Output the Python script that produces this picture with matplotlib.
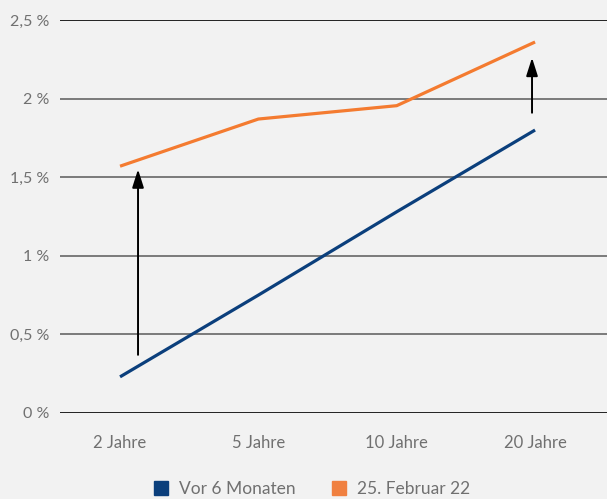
import matplotlib
matplotlib.use("Agg")
import matplotlib.pyplot as plt
from matplotlib.lines import Line2D

plt.rcParams["font.family"] = ["Lato", "DejaVu Sans"]

categories = ["2 Jahre", "5 Jahre", "10 Jahre", "20 Jahre"]
vor_6_monaten = [0.23, 0.75, 1.28, 1.80]
feb_25_22 = [1.57, 1.87, 1.955, 2.36]
y_ticks = [0, 0.5, 1, 1.5, 2, 2.5]
y_tick_labels = ["0 %", "0,5 %", "1 %", "1,5 %", "2 %", "2,5 %"]
# arrows: (category position, start value, end value)
arrows = [(0.13, 0.37, 1.55), (2.978, 1.91, 2.26)]

BLUE = "#0b3f7c"
ORANGE = "#f47b30"
BG = "#f2f2f2"
TEXT = "#707070"

fig = plt.figure(figsize=(6.07, 4.99), dpi=100, facecolor=BG)
ax = fig.add_axes([60 / 607, 86 / 499, 547 / 607, 393 / 499], facecolor=BG)

x = list(range(len(categories)))
ax.plot(x, vor_6_monaten, color=BLUE, lw=2.3, solid_capstyle="butt", zorder=3)
ax.plot(x, feb_25_22, color=ORANGE, lw=2.3, solid_capstyle="butt", zorder=3)

for xa, y0, y1 in arrows:
    ax.annotate("", xy=(xa, y1), xytext=(xa, y0),
                arrowprops=dict(arrowstyle="-|>,head_length=1.1,head_width=0.35",
                                color="black", lw=1.4, shrinkA=0, shrinkB=0),
                zorder=4)

for t in y_ticks:
    c = "#222222" if t in (0, 2.5) else "#7a7a7a"
    ax.axhline(t, color=c, lw=1.4, zorder=1)

ax.set_xlim(-0.434, 3.52)
ax.set_ylim(0, 2.5)
ax.set_yticks(y_ticks)
ax.set_yticklabels(y_tick_labels)
ax.set_xticks(x)
ax.set_xticklabels(categories)
ax.tick_params(axis="x", length=0, colors=TEXT, labelsize=12, pad=16)
ax.tick_params(axis="y", length=0, colors=TEXT, labelsize=11.5, pad=8)
for s in ax.spines.values():
    s.set_visible(False)

handles = [
    Line2D([], [], marker="s", color=BLUE, ls="none", markersize=9.5),
    Line2D([], [], marker="s", color="#f08040", ls="none", markersize=9.5),
]
leg = fig.legend(handles, ["Vor 6 Monaten", "25. Februar 22"], loc="center",
                 bbox_to_anchor=(311 / 607, 1 - 489 / 499), ncol=2, frameon=False,
                 fontsize=12.5, handletextpad=0.55, columnspacing=2.0, handlelength=1.0)
for t in leg.get_texts():
    t.set_color(TEXT)

fig.savefig("out.png", dpi=100, facecolor=BG)
